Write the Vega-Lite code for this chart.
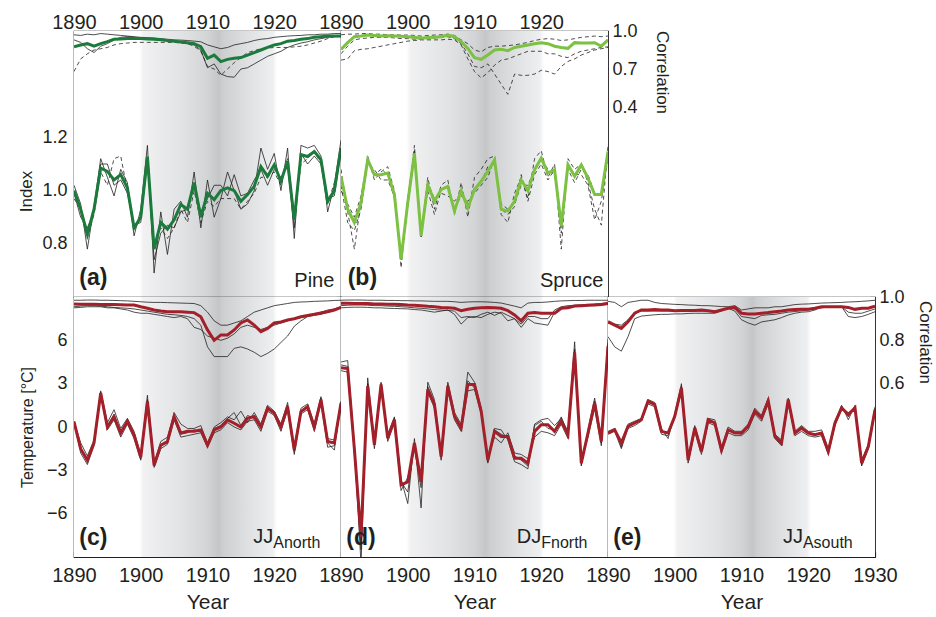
{
"$schema":"https://vega.github.io/schema/vega-lite/v6.json",
"background":"white",
"padding":{"left":16,"top":11,"right":0,"bottom":0},
"config":{
 "font":"Liberation Sans",
 "view":{"stroke":"#231f20","strokeWidth":1.2},
 "axis":{"domain":false,"grid":false,"tickColor":"#231f20","tickSize":-5,"tickWidth":1.2,"labelColor":"#231f20","titleColor":"#231f20","labelFont":"Liberation Sans","titleFont":"Liberation Sans","titleFontWeight":"normal","labelPadding":4,"labelFlush":false,"labelOverlap":false},
 "text":{"color":"#231f20","font":"Liberation Sans","baseline":"alphabetic"}
},
"datasets":{
"a_idx":[
{"yr":1890,"m":1.0,"k1":1.02,"k2":0.99,"k3":0.97},{"yr":1891,"m":0.93,"k1":0.95,"k2":0.90,"k3":0.93},{"yr":1892,"m":0.835,"k1":0.78,"k2":0.86,"k3":0.82},{"yr":1893,"m":0.93,"k1":0.94,"k2":0.92,"k3":0.91},{"yr":1894,"m":1.085,"k1":1.12,"k2":1.10,"k3":1.07},{"yr":1895,"m":1.072,"k1":1.05,"k2":1.10,"k3":1.02},{"yr":1896,"m":1.04,"k1":0.98,"k2":1.02,"k3":1.12},{"yr":1897,"m":1.06,"k1":1.08,"k2":1.04,"k3":1.13},{"yr":1898,"m":1.01,"k1":1.03,"k2":0.99,"k3":1.0},{"yr":1899,"m":0.86,"k1":0.83,"k2":0.87,"k3":0.85},{"yr":1900,"m":0.90,"k1":0.93,"k2":0.88,"k3":0.90},{"yr":1901,"m":1.128,"k1":1.17,"k2":1.12,"k3":1.10},{"yr":1902,"m":0.78,"k1":0.69,"k2":0.74,"k3":0.80},{"yr":1903,"m":0.88,"k1":0.92,"k2":0.84,"k3":0.86},{"yr":1904,"m":0.855,"k1":0.76,"k2":0.87,"k3":0.82},{"yr":1905,"m":0.89,"k1":0.93,"k2":0.86,"k3":0.86},{"yr":1906,"m":0.948,"k1":0.96,"k2":0.92,"k3":0.93},{"yr":1907,"m":0.93,"k1":0.90,"k2":0.93,"k3":0.88},{"yr":1908,"m":1.03,"k1":1.07,"k2":1.02,"k3":1.0},{"yr":1909,"m":0.90,"k1":0.86,"k2":0.92,"k3":0.88},{"yr":1910,"m":0.99,"k1":1.04,"k2":0.97,"k3":0.96},{"yr":1911,"m":0.966,"k1":0.90,"k2":1.02,"k3":0.94},{"yr":1912,"m":1.0,"k1":0.97,"k2":1.02,"k3":0.97},{"yr":1913,"m":1.01,"k1":1.07,"k2":0.98,"k3":0.97},{"yr":1914,"m":1.0,"k1":1.0,"k2":1.06,"k3":0.97},{"yr":1915,"m":0.96,"k1":0.93,"k2":0.98,"k3":0.93},{"yr":1916,"m":0.985,"k1":0.95,"k2":0.99,"k3":0.96},{"yr":1917,"m":1.016,"k1":1.0,"k2":1.04,"k3":0.99},{"yr":1918,"m":1.09,"k1":1.16,"k2":1.08,"k3":1.05},{"yr":1919,"m":1.054,"k1":1.08,"k2":1.02,"k3":1.05},{"yr":1920,"m":1.097,"k1":1.14,"k2":1.08,"k3":1.07},{"yr":1921,"m":1.035,"k1":1.0,"k2":1.05,"k3":1.02},{"yr":1922,"m":1.11,"k1":1.16,"k2":1.09,"k3":1.12},{"yr":1923,"m":0.89,"k1":0.82,"k2":0.86,"k3":0.90},{"yr":1924,"m":1.135,"k1":1.17,"k2":1.14,"k3":1.10},{"yr":1925,"m":1.128,"k1":1.16,"k2":1.10,"k3":1.12},{"yr":1926,"m":1.147,"k1":1.17,"k2":1.13,"k3":1.15},{"yr":1927,"m":1.116,"k1":1.13,"k2":1.10,"k3":1.10},{"yr":1928,"m":0.96,"k1":0.92,"k2":0.97,"k3":0.95},{"yr":1929,"m":1.0,"k1":1.02,"k2":0.98,"k3":1.03},{"yr":1930,"m":1.16,"k1":1.19,"k2":1.15,"k3":1.14}
],
"b_idx":[
{"yr":1890,"m":1.054,"k1":1.08,"k2":1.02,"k3":1.0},{"yr":1891,"m":0.93,"k1":0.92,"k2":0.88,"k3":0.95},{"yr":1892,"m":0.88,"k1":0.78,"k2":0.85,"k3":0.90},{"yr":1893,"m":0.954,"k1":0.96,"k2":0.93,"k3":0.98},{"yr":1894,"m":1.116,"k1":1.13,"k2":1.10,"k3":1.12},{"yr":1895,"m":1.06,"k1":1.04,"k2":1.08,"k3":1.06},{"yr":1896,"m":1.06,"k1":1.07,"k2":1.04,"k3":1.08},{"yr":1897,"m":1.066,"k1":1.09,"k2":1.04,"k3":1.06},{"yr":1898,"m":0.985,"k1":1.0,"k2":0.98,"k3":0.97},{"yr":1899,"m":0.742,"k1":0.71,"k2":0.75,"k3":0.74},{"yr":1900,"m":0.954,"k1":0.96,"k2":0.94,"k3":0.97},{"yr":1901,"m":1.14,"k1":1.17,"k2":1.15,"k3":1.13},{"yr":1902,"m":0.83,"k1":0.82,"k2":0.84,"k3":0.83},{"yr":1903,"m":1.022,"k1":1.05,"k2":1.03,"k3":1.0},{"yr":1904,"m":0.96,"k1":0.93,"k2":0.97,"k3":0.91},{"yr":1905,"m":1.004,"k1":1.02,"k2":0.99,"k3":1.0},{"yr":1906,"m":1.016,"k1":1.04,"k2":0.98,"k3":1.02},{"yr":1907,"m":0.923,"k1":0.91,"k2":0.96,"k3":0.93},{"yr":1908,"m":1.0,"k1":1.03,"k2":0.99,"k3":0.98},{"yr":1909,"m":0.935,"k1":0.90,"k2":0.95,"k3":0.96},{"yr":1910,"m":1.004,"k1":1.05,"k2":1.0,"k3":0.99},{"yr":1911,"m":1.035,"k1":1.08,"k2":1.03,"k3":1.02},{"yr":1912,"m":1.072,"k1":1.12,"k2":1.09,"k3":1.05},{"yr":1913,"m":1.116,"k1":1.13,"k2":1.10,"k3":1.12},{"yr":1914,"m":0.93,"k1":0.91,"k2":0.95,"k3":0.93},{"yr":1915,"m":0.923,"k1":0.88,"k2":0.93,"k3":0.91},{"yr":1916,"m":0.96,"k1":0.99,"k2":0.95,"k3":0.94},{"yr":1917,"m":1.04,"k1":1.05,"k2":1.02,"k3":1.06},{"yr":1918,"m":1.0,"k1":0.97,"k2":1.02,"k3":0.96},{"yr":1919,"m":1.078,"k1":1.12,"k2":1.08,"k3":1.06},{"yr":1920,"m":1.122,"k1":1.15,"k2":1.12,"k3":1.10},{"yr":1921,"m":1.066,"k1":1.05,"k2":1.08,"k3":1.04},{"yr":1922,"m":1.078,"k1":1.10,"k2":1.06,"k3":1.08},{"yr":1923,"m":0.867,"k1":0.78,"k2":0.88,"k3":0.84},{"yr":1924,"m":1.097,"k1":1.12,"k2":1.08,"k3":1.10},{"yr":1925,"m":1.054,"k1":1.08,"k2":1.03,"k3":1.06},{"yr":1926,"m":1.097,"k1":1.10,"k2":1.08,"k3":1.06},{"yr":1927,"m":1.047,"k1":1.03,"k2":1.06,"k3":1.02},{"yr":1928,"m":0.985,"k1":0.93,"k2":0.99,"k3":0.89},{"yr":1929,"m":0.985,"k1":0.87,"k2":0.98,"k3":0.96},{"yr":1930,"m":1.147,"k1":1.17,"k2":1.14,"k3":1.12}
],
"a_cor":[
{"yr":1890,"m":0.876,"k1":0.97,"k2":0.93,"k3":0.68},{"yr":1891,"m":0.89,"k1":0.965,"k2":0.91,"k3":0.78},{"yr":1892,"m":0.90,"k1":0.975,"k2":0.86,"k3":0.82},{"yr":1893,"m":0.88,"k1":0.97,"k2":0.83,"k3":0.85},{"yr":1894,"m":0.90,"k1":0.98,"k2":0.88,"k3":0.86},{"yr":1895,"m":0.916,"k1":0.975,"k2":0.90,"k3":0.87},{"yr":1896,"m":0.934,"k1":0.97,"k2":0.93,"k3":0.89},{"yr":1897,"m":0.937,"k1":0.965,"k2":0.95,"k3":0.90},{"yr":1898,"m":0.94,"k1":0.96,"k2":0.955,"k3":0.905},{"yr":1899,"m":0.94,"k1":0.955,"k2":0.95,"k3":0.91},{"yr":1900,"m":0.94,"k1":0.95,"k2":0.945,"k3":0.91},{"yr":1901,"m":0.937,"k1":0.948,"k2":0.94,"k3":0.91},{"yr":1902,"m":0.934,"k1":0.945,"k2":0.935,"k3":0.91},{"yr":1903,"m":0.93,"k1":0.94,"k2":0.93,"k3":0.91},{"yr":1904,"m":0.924,"k1":0.935,"k2":0.925,"k3":0.91},{"yr":1905,"m":0.92,"k1":0.93,"k2":0.92,"k3":0.91},{"yr":1906,"m":0.914,"k1":0.928,"k2":0.91,"k3":0.905},{"yr":1907,"m":0.907,"k1":0.925,"k2":0.90,"k3":0.90},{"yr":1908,"m":0.90,"k1":0.92,"k2":0.89,"k3":0.88},{"yr":1909,"m":0.876,"k1":0.915,"k2":0.85,"k3":0.84},{"yr":1910,"m":0.784,"k1":0.89,"k2":0.71,"k3":0.72},{"yr":1911,"m":0.81,"k1":0.875,"k2":0.74,"k3":0.70},{"yr":1912,"m":0.758,"k1":0.86,"k2":0.66,"k3":0.65},{"yr":1913,"m":0.776,"k1":0.87,"k2":0.64,"k3":0.70},{"yr":1914,"m":0.784,"k1":0.89,"k2":0.635,"k3":0.75},{"yr":1915,"m":0.79,"k1":0.90,"k2":0.70,"k3":0.79},{"yr":1916,"m":0.81,"k1":0.91,"k2":0.71,"k3":0.83},{"yr":1917,"m":0.83,"k1":0.925,"k2":0.74,"k3":0.845},{"yr":1918,"m":0.85,"k1":0.935,"k2":0.77,"k3":0.86},{"yr":1919,"m":0.87,"k1":0.94,"k2":0.80,"k3":0.865},{"yr":1920,"m":0.89,"k1":0.95,"k2":0.82,"k3":0.87},{"yr":1921,"m":0.90,"k1":0.955,"k2":0.84,"k3":0.87},{"yr":1922,"m":0.92,"k1":0.96,"k2":0.87,"k3":0.87},{"yr":1923,"m":0.925,"k1":0.963,"k2":0.89,"k3":0.875},{"yr":1924,"m":0.934,"k1":0.965,"k2":0.905,"k3":0.88},{"yr":1925,"m":0.94,"k1":0.97,"k2":0.915,"k3":0.89},{"yr":1926,"m":0.95,"k1":0.97,"k2":0.93,"k3":0.905},{"yr":1927,"m":0.955,"k1":0.975,"k2":0.94,"k3":0.92},{"yr":1928,"m":0.96,"k1":0.975,"k2":0.95,"k3":0.94},{"yr":1929,"m":0.96,"k1":0.98,"k2":0.955,"k3":0.955},{"yr":1930,"m":0.96,"k1":0.98,"k2":0.955,"k3":0.96}
],
"b_cor":[
{"yr":1890,"m":0.855,"k1":0.97,"k2":0.77,"k3":0.82},{"yr":1891,"m":0.908,"k1":0.975,"k2":0.78,"k3":0.88},{"yr":1892,"m":0.955,"k1":0.975,"k2":0.845,"k3":0.93},{"yr":1893,"m":0.96,"k1":0.98,"k2":0.855,"k3":0.94},{"yr":1894,"m":0.968,"k1":0.98,"k2":0.86,"k3":0.945},{"yr":1895,"m":0.965,"k1":0.975,"k2":0.87,"k3":0.95},{"yr":1896,"m":0.96,"k1":0.975,"k2":0.88,"k3":0.95},{"yr":1897,"m":0.962,"k1":0.97,"k2":0.89,"k3":0.95},{"yr":1898,"m":0.96,"k1":0.97,"k2":0.90,"k3":0.945},{"yr":1899,"m":0.958,"k1":0.968,"k2":0.91,"k3":0.94},{"yr":1900,"m":0.955,"k1":0.968,"k2":0.92,"k3":0.94},{"yr":1901,"m":0.95,"k1":0.965,"k2":0.925,"k3":0.935},{"yr":1902,"m":0.943,"k1":0.96,"k2":0.93,"k3":0.935},{"yr":1903,"m":0.948,"k1":0.965,"k2":0.93,"k3":0.94},{"yr":1904,"m":0.95,"k1":0.968,"k2":0.93,"k3":0.945},{"yr":1905,"m":0.955,"k1":0.97,"k2":0.93,"k3":0.95},{"yr":1906,"m":0.968,"k1":0.975,"k2":0.935,"k3":0.955},{"yr":1907,"m":0.955,"k1":0.965,"k2":0.93,"k3":0.94},{"yr":1908,"m":0.916,"k1":0.93,"k2":0.89,"k3":0.90},{"yr":1909,"m":0.863,"k1":0.90,"k2":0.78,"k3":0.82},{"yr":1910,"m":0.79,"k1":0.85,"k2":0.68,"k3":0.72},{"yr":1911,"m":0.776,"k1":0.835,"k2":0.63,"k3":0.71},{"yr":1912,"m":0.81,"k1":0.87,"k2":0.67,"k3":0.74},{"yr":1913,"m":0.85,"k1":0.88,"k2":0.73,"k3":0.66},{"yr":1914,"m":0.855,"k1":0.88,"k2":0.77,"k3":0.58},{"yr":1915,"m":0.845,"k1":0.885,"k2":0.78,"k3":0.50},{"yr":1916,"m":0.87,"k1":0.89,"k2":0.80,"k3":0.66},{"yr":1917,"m":0.88,"k1":0.90,"k2":0.82,"k3":0.65},{"yr":1918,"m":0.89,"k1":0.91,"k2":0.84,"k3":0.65},{"yr":1919,"m":0.90,"k1":0.925,"k2":0.84,"k3":0.66},{"yr":1920,"m":0.908,"k1":0.935,"k2":0.84,"k3":0.69},{"yr":1921,"m":0.90,"k1":0.94,"k2":0.82,"k3":0.68},{"yr":1922,"m":0.88,"k1":0.935,"k2":0.82,"k3":0.66},{"yr":1923,"m":0.87,"k1":0.925,"k2":0.80,"k3":0.72},{"yr":1924,"m":0.863,"k1":0.93,"k2":0.79,"k3":0.76},{"yr":1925,"m":0.908,"k1":0.94,"k2":0.82,"k3":0.78},{"yr":1926,"m":0.905,"k1":0.95,"k2":0.84,"k3":0.81},{"yr":1927,"m":0.905,"k1":0.955,"k2":0.85,"k3":0.83},{"yr":1928,"m":0.908,"k1":0.96,"k2":0.86,"k3":0.85},{"yr":1929,"m":0.88,"k1":0.955,"k2":0.87,"k3":0.86},{"yr":1930,"m":0.93,"k1":0.96,"k2":0.875,"k3":0.87}
],
"c_tmp":[
{"yr":1890,"m":0.37,"k1":0.4,"k2":0.3,"k3":0.4},{"yr":1891,"m":-1.5,"k1":-1.1,"k2":-1.8,"k3":-1.6},{"yr":1892,"m":-2.3,"k1":-2.0,"k2":-2.6,"k3":-2.4},{"yr":1893,"m":-1.1,"k1":-0.9,"k2":-1.3,"k3":-1.0},{"yr":1894,"m":2.35,"k1":2.5,"k2":2.2,"k3":2.4},{"yr":1895,"m":0.0,"k1":0.3,"k2":-0.2,"k3":0.1},{"yr":1896,"m":0.7,"k1":1.2,"k2":0.5,"k3":0.9},{"yr":1897,"m":-0.4,"k1":-0.1,"k2":-0.7,"k3":-0.5},{"yr":1898,"m":0.4,"k1":0.6,"k2":0.2,"k3":0.5},{"yr":1899,"m":-0.56,"k1":-0.3,"k2":-0.8,"k3":-0.6},{"yr":1900,"m":-2.1,"k1":-1.9,"k2":-2.3,"k3":-2.2},{"yr":1901,"m":1.77,"k1":2.2,"k2":1.6,"k3":1.9},{"yr":1902,"m":-2.65,"k1":-2.5,"k2":-2.8,"k3":-2.7},{"yr":1903,"m":-1.26,"k1":-1.0,"k2":-1.5,"k3":-1.3},{"yr":1904,"m":-1.0,"k1":-0.7,"k2":-1.2,"k3":-1.1},{"yr":1905,"m":0.72,"k1":1.0,"k2":0.5,"k3":0.8},{"yr":1906,"m":-0.42,"k1":0.2,"k2":-0.7,"k3":-0.5},{"yr":1907,"m":-0.3,"k1":-0.1,"k2":-0.6,"k3":-0.4},{"yr":1908,"m":-0.3,"k1":-0.1,"k2":-0.5,"k3":-0.2},{"yr":1909,"m":-0.2,"k1":0.1,"k2":-0.4,"k3":-0.3},{"yr":1910,"m":-1.26,"k1":-1.1,"k2":-1.4,"k3":-1.3},{"yr":1911,"m":-0.2,"k1":0.0,"k2":-0.4,"k3":-0.1},{"yr":1912,"m":0.0,"k1":0.3,"k2":-0.2,"k3":0.1},{"yr":1913,"m":0.49,"k1":0.7,"k2":0.3,"k3":0.6},{"yr":1914,"m":0.26,"k1":0.5,"k2":0.0,"k3":1.0},{"yr":1915,"m":0.0,"k1":1.1,"k2":-0.2,"k3":0.1},{"yr":1916,"m":0.6,"k1":0.3,"k2":0.4,"k3":0.8},{"yr":1917,"m":0.72,"k1":1.0,"k2":0.5,"k3":0.6},{"yr":1918,"m":0.0,"k1":0.2,"k2":-0.3,"k3":0.1},{"yr":1919,"m":1.3,"k1":1.5,"k2":1.1,"k3":1.4},{"yr":1920,"m":0.96,"k1":1.1,"k2":0.8,"k3":1.0},{"yr":1921,"m":0.0,"k1":0.2,"k2":-0.3,"k3":0.1},{"yr":1922,"m":1.4,"k1":1.7,"k2":1.2,"k3":1.5},{"yr":1923,"m":-1.6,"k1":-1.4,"k2":-1.9,"k3":-1.7},{"yr":1924,"m":1.07,"k1":1.3,"k2":0.9,"k3":1.1},{"yr":1925,"m":1.4,"k1":1.6,"k2":1.2,"k3":1.5},{"yr":1926,"m":0.0,"k1":0.2,"k2":-0.3,"k3":0.1},{"yr":1927,"m":1.9,"k1":2.1,"k2":1.7,"k3":2.0},{"yr":1928,"m":-1.0,"k1":-0.8,"k2":-1.4,"k3":-1.1},{"yr":1929,"m":-1.1,"k1":-0.9,"k2":-1.3,"k3":-1.6},{"yr":1930,"m":1.67,"k1":1.8,"k2":1.5,"k3":1.7}
],
"c_cor":[
{"yr":1890,"m":0.968,"k1":0.985,"k2":0.95,"k3":0.955},{"yr":1891,"m":0.966,"k1":0.985,"k2":0.952,"k3":0.958},{"yr":1892,"m":0.967,"k1":0.986,"k2":0.955,"k3":0.96},{"yr":1893,"m":0.966,"k1":0.986,"k2":0.955,"k3":0.96},{"yr":1894,"m":0.965,"k1":0.985,"k2":0.955,"k3":0.958},{"yr":1895,"m":0.965,"k1":0.985,"k2":0.95,"k3":0.955},{"yr":1896,"m":0.965,"k1":0.984,"k2":0.95,"k3":0.952},{"yr":1897,"m":0.964,"k1":0.983,"k2":0.945,"k3":0.95},{"yr":1898,"m":0.963,"k1":0.982,"k2":0.94,"k3":0.948},{"yr":1899,"m":0.963,"k1":0.98,"k2":0.93,"k3":0.945},{"yr":1900,"m":0.955,"k1":0.978,"k2":0.925,"k3":0.94},{"yr":1901,"m":0.948,"k1":0.976,"k2":0.925,"k3":0.935},{"yr":1902,"m":0.94,"k1":0.975,"k2":0.92,"k3":0.93},{"yr":1903,"m":0.935,"k1":0.975,"k2":0.915,"k3":0.925},{"yr":1904,"m":0.932,"k1":0.974,"k2":0.91,"k3":0.92},{"yr":1905,"m":0.932,"k1":0.973,"k2":0.905,"k3":0.918},{"yr":1906,"m":0.932,"k1":0.972,"k2":0.91,"k3":0.915},{"yr":1907,"m":0.93,"k1":0.971,"k2":0.90,"k3":0.91},{"yr":1908,"m":0.928,"k1":0.97,"k2":0.86,"k3":0.90},{"yr":1909,"m":0.909,"k1":0.96,"k2":0.85,"k3":0.87},{"yr":1910,"m":0.848,"k1":0.93,"k2":0.82,"k3":0.77},{"yr":1911,"m":0.80,"k1":0.89,"k2":0.81,"k3":0.725},{"yr":1912,"m":0.825,"k1":0.87,"k2":0.80,"k3":0.725},{"yr":1913,"m":0.825,"k1":0.87,"k2":0.81,"k3":0.725},{"yr":1914,"m":0.848,"k1":0.88,"k2":0.83,"k3":0.763},{"yr":1915,"m":0.88,"k1":0.89,"k2":0.86,"k3":0.77},{"yr":1916,"m":0.894,"k1":0.91,"k2":0.87,"k3":0.76},{"yr":1917,"m":0.87,"k1":0.93,"k2":0.86,"k3":0.745},{"yr":1918,"m":0.84,"k1":0.94,"k2":0.85,"k3":0.725},{"yr":1919,"m":0.855,"k1":0.95,"k2":0.86,"k3":0.74},{"yr":1920,"m":0.88,"k1":0.96,"k2":0.87,"k3":0.76},{"yr":1921,"m":0.885,"k1":0.965,"k2":0.88,"k3":0.79},{"yr":1922,"m":0.894,"k1":0.97,"k2":0.89,"k3":0.82},{"yr":1923,"m":0.90,"k1":0.975,"k2":0.90,"k3":0.865},{"yr":1924,"m":0.909,"k1":0.977,"k2":0.905,"k3":0.89},{"yr":1925,"m":0.915,"k1":0.978,"k2":0.91,"k3":0.91},{"yr":1926,"m":0.92,"k1":0.98,"k2":0.915,"k3":0.92},{"yr":1927,"m":0.926,"k1":0.981,"k2":0.92,"k3":0.93},{"yr":1928,"m":0.932,"k1":0.982,"k2":0.93,"k3":0.94},{"yr":1929,"m":0.94,"k1":0.984,"k2":0.94,"k3":0.945},{"yr":1930,"m":0.952,"k1":0.985,"k2":0.95,"k3":0.955}
],
"d_tmp":[
{"yr":1890,"m":4.1,"k1":4.5,"k2":3.9,"k3":4.3},{"yr":1891,"m":4.05,"k1":4.6,"k2":3.8,"k3":4.2},{"yr":1892,"m":-1.5,"k1":-1.2,"k2":-1.8,"k3":-1.4},{"yr":1893,"m":-7.6,"k1":-9.5,"k2":-8.5,"k3":-8.0},{"yr":1894,"m":2.84,"k1":3.4,"k2":2.6,"k3":3.0},{"yr":1895,"m":-1.23,"k1":-1.0,"k2":-1.5,"k3":-1.1},{"yr":1896,"m":2.95,"k1":3.1,"k2":2.7,"k3":3.0},{"yr":1897,"m":-0.77,"k1":-0.5,"k2":-1.0,"k3":-0.8},{"yr":1898,"m":0.5,"k1":0.7,"k2":0.3,"k3":0.6},{"yr":1899,"m":-4.0,"k1":-3.6,"k2":-4.4,"k3":-3.8},{"yr":1900,"m":-3.8,"k1":-5.3,"k2":-3.5,"k3":-4.5},{"yr":1901,"m":-1.1,"k1":-0.8,"k2":-1.5,"k3":-1.2},{"yr":1902,"m":-3.8,"k1":-5.6,"k2":-4.2,"k3":-3.6},{"yr":1903,"m":2.6,"k1":3.1,"k2":2.4,"k3":2.8},{"yr":1904,"m":1.56,"k1":1.9,"k2":1.3,"k3":1.7},{"yr":1905,"m":-2.05,"k1":-1.8,"k2":-2.3,"k3":-2.1},{"yr":1906,"m":2.84,"k1":3.1,"k2":2.6,"k3":2.9},{"yr":1907,"m":0.74,"k1":1.0,"k2":0.5,"k3":0.8},{"yr":1908,"m":-0.07,"k1":0.2,"k2":-0.3,"k3":0.0},{"yr":1909,"m":2.95,"k1":3.8,"k2":2.5,"k3":3.2},{"yr":1910,"m":2.95,"k1":3.1,"k2":2.6,"k3":2.7},{"yr":1911,"m":1.1,"k1":1.3,"k2":0.9,"k3":1.2},{"yr":1912,"m":-2.3,"k1":-2.5,"k2":-2.1,"k3":-2.4},{"yr":1913,"m":-0.3,"k1":-0.1,"k2":-0.7,"k3":-0.2},{"yr":1914,"m":-0.65,"k1":-0.2,"k2":-1.1,"k3":-0.5},{"yr":1915,"m":-0.65,"k1":-0.9,"k2":-0.4,"k3":-0.7},{"yr":1916,"m":-2.16,"k1":-2.4,"k2":-1.8,"k3":-2.0},{"yr":1917,"m":-2.16,"k1":-2.6,"k2":-1.9,"k3":-2.3},{"yr":1918,"m":-2.5,"k1":-2.9,"k2":-2.2,"k3":-2.7},{"yr":1919,"m":-0.3,"k1":0.2,"k2":-0.7,"k3":0.1},{"yr":1920,"m":0.16,"k1":0.5,"k2":-0.3,"k3":0.4},{"yr":1921,"m":0.16,"k1":0.6,"k2":-0.4,"k3":-0.1},{"yr":1922,"m":-0.3,"k1":0.1,"k2":-0.6,"k3":-0.2},{"yr":1923,"m":0.4,"k1":0.6,"k2":0.2,"k3":0.7},{"yr":1924,"m":-0.53,"k1":-0.3,"k2":-0.8,"k3":-0.5},{"yr":1925,"m":5.16,"k1":5.9,"k2":4.9,"k3":5.4},{"yr":1926,"m":-2.5,"k1":-2.7,"k2":-2.3,"k3":-2.6},{"yr":1927,"m":-0.42,"k1":-0.2,"k2":-0.7,"k3":-0.5},{"yr":1928,"m":1.67,"k1":2.0,"k2":1.3,"k3":1.8},{"yr":1929,"m":-1.0,"k1":-0.8,"k2":-1.3,"k3":-1.1},{"yr":1930,"m":5.6,"k1":6.1,"k2":5.3,"k3":5.8}
],
"d_cor":[
{"yr":1890,"m":0.971,"k1":0.985,"k2":0.95,"k3":0.96},{"yr":1891,"m":0.971,"k1":0.986,"k2":0.952,"k3":0.962},{"yr":1892,"m":0.97,"k1":0.986,"k2":0.953,"k3":0.963},{"yr":1893,"m":0.97,"k1":0.986,"k2":0.953,"k3":0.963},{"yr":1894,"m":0.97,"k1":0.985,"k2":0.952,"k3":0.962},{"yr":1895,"m":0.968,"k1":0.985,"k2":0.95,"k3":0.96},{"yr":1896,"m":0.968,"k1":0.985,"k2":0.95,"k3":0.96},{"yr":1897,"m":0.967,"k1":0.984,"k2":0.948,"k3":0.958},{"yr":1898,"m":0.966,"k1":0.984,"k2":0.947,"k3":0.957},{"yr":1899,"m":0.965,"k1":0.983,"k2":0.946,"k3":0.955},{"yr":1900,"m":0.963,"k1":0.983,"k2":0.945,"k3":0.953},{"yr":1901,"m":0.962,"k1":0.982,"k2":0.942,"k3":0.95},{"yr":1902,"m":0.96,"k1":0.982,"k2":0.94,"k3":0.948},{"yr":1903,"m":0.957,"k1":0.981,"k2":0.935,"k3":0.945},{"yr":1904,"m":0.955,"k1":0.98,"k2":0.93,"k3":0.942},{"yr":1905,"m":0.952,"k1":0.98,"k2":0.935,"k3":0.94},{"yr":1906,"m":0.95,"k1":0.98,"k2":0.94,"k3":0.938},{"yr":1907,"m":0.948,"k1":0.978,"k2":0.92,"k3":0.935},{"yr":1908,"m":0.937,"k1":0.975,"k2":0.875,"k3":0.905},{"yr":1909,"m":0.943,"k1":0.977,"k2":0.905,"k3":0.91},{"yr":1910,"m":0.948,"k1":0.978,"k2":0.91,"k3":0.905},{"yr":1911,"m":0.95,"k1":0.978,"k2":0.905,"k3":0.92},{"yr":1912,"m":0.952,"k1":0.977,"k2":0.92,"k3":0.93},{"yr":1913,"m":0.95,"k1":0.975,"k2":0.93,"k3":0.915},{"yr":1914,"m":0.948,"k1":0.972,"k2":0.925,"k3":0.93},{"yr":1915,"m":0.937,"k1":0.965,"k2":0.89,"k3":0.915},{"yr":1916,"m":0.917,"k1":0.958,"k2":0.90,"k3":0.90},{"yr":1917,"m":0.89,"k1":0.95,"k2":0.86,"k3":0.875},{"yr":1918,"m":0.925,"k1":0.972,"k2":0.90,"k3":0.91},{"yr":1919,"m":0.928,"k1":0.975,"k2":0.88,"k3":0.91},{"yr":1920,"m":0.925,"k1":0.975,"k2":0.875,"k3":0.90},{"yr":1921,"m":0.925,"k1":0.977,"k2":0.87,"k3":0.90},{"yr":1922,"m":0.925,"k1":0.98,"k2":0.93,"k3":0.94},{"yr":1923,"m":0.948,"k1":0.982,"k2":0.95,"k3":0.955},{"yr":1924,"m":0.95,"k1":0.983,"k2":0.955,"k3":0.96},{"yr":1925,"m":0.958,"k1":0.984,"k2":0.957,"k3":0.962},{"yr":1926,"m":0.96,"k1":0.984,"k2":0.958,"k3":0.964},{"yr":1927,"m":0.962,"k1":0.985,"k2":0.96,"k3":0.966},{"yr":1928,"m":0.963,"k1":0.985,"k2":0.962,"k3":0.968},{"yr":1929,"m":0.965,"k1":0.985,"k2":0.963,"k3":0.97},{"yr":1930,"m":0.971,"k1":0.985,"k2":0.965,"k3":0.97}
],
"e_tmp":[
{"yr":1890,"m":-0.42,"k1":-0.3,"k2":-0.5,"k3":-0.4},{"yr":1891,"m":-0.19,"k1":-0.1,"k2":-0.3,"k3":-0.2},{"yr":1892,"m":-1.1,"k1":-1.4,"k2":-1.5,"k3":-1.0},{"yr":1893,"m":0.05,"k1":0.2,"k2":-0.1,"k3":0.0},{"yr":1894,"m":0.28,"k1":0.4,"k2":0.1,"k3":0.3},{"yr":1895,"m":0.5,"k1":0.6,"k2":0.4,"k3":0.5},{"yr":1896,"m":1.8,"k1":1.9,"k2":1.6,"k3":1.7},{"yr":1897,"m":1.56,"k1":1.7,"k2":1.4,"k3":1.5},{"yr":1898,"m":-0.3,"k1":-0.1,"k2":-0.5,"k3":-0.3},{"yr":1899,"m":-0.42,"k1":-0.8,"k2":-0.6,"k3":-0.4},{"yr":1900,"m":0.74,"k1":0.9,"k2":0.6,"k3":0.8},{"yr":1901,"m":2.7,"k1":3.0,"k2":2.5,"k3":2.8},{"yr":1902,"m":-2.3,"k1":-2.1,"k2":-2.5,"k3":-2.2},{"yr":1903,"m":-0.07,"k1":0.1,"k2":-0.3,"k3":0.0},{"yr":1904,"m":-1.7,"k1":-1.5,"k2":-1.9,"k3":-1.6},{"yr":1905,"m":0.5,"k1":0.6,"k2":0.3,"k3":0.4},{"yr":1906,"m":0.28,"k1":0.5,"k2":0.1,"k3":0.3},{"yr":1907,"m":-1.6,"k1":-1.4,"k2":-1.8,"k3":-1.5},{"yr":1908,"m":-0.19,"k1":0.0,"k2":-0.4,"k3":-0.2},{"yr":1909,"m":-0.42,"k1":-0.3,"k2":-0.6,"k3":-0.4},{"yr":1910,"m":-0.42,"k1":-0.3,"k2":-0.6,"k3":-0.5},{"yr":1911,"m":0.05,"k1":0.2,"k2":-0.2,"k3":0.0},{"yr":1912,"m":1.1,"k1":1.3,"k2":0.9,"k3":1.2},{"yr":1913,"m":0.63,"k1":0.8,"k2":0.4,"k3":0.6},{"yr":1914,"m":1.8,"k1":2.0,"k2":1.6,"k3":1.7},{"yr":1915,"m":-0.65,"k1":-0.5,"k2":-0.8,"k3":-0.7},{"yr":1916,"m":-1.1,"k1":-0.9,"k2":-1.3,"k3":-1.2},{"yr":1917,"m":1.9,"k1":2.0,"k2":1.7,"k3":1.8},{"yr":1918,"m":-0.42,"k1":-0.3,"k2":-0.6,"k3":-0.4},{"yr":1919,"m":-0.07,"k1":0.1,"k2":-0.3,"k3":0.0},{"yr":1920,"m":-0.42,"k1":-0.3,"k2":-0.6,"k3":-0.4},{"yr":1921,"m":-0.53,"k1":-0.3,"k2":-0.7,"k3":-0.5},{"yr":1922,"m":-0.42,"k1":-0.2,"k2":-0.6,"k3":-0.4},{"yr":1923,"m":-1.7,"k1":-1.5,"k2":-1.9,"k3":-1.6},{"yr":1924,"m":0.28,"k1":0.4,"k2":0.1,"k3":0.3},{"yr":1925,"m":1.33,"k1":1.5,"k2":1.2,"k3":1.4},{"yr":1926,"m":0.86,"k1":0.5,"k2":1.0,"k3":0.7},{"yr":1927,"m":1.33,"k1":1.5,"k2":1.2,"k3":1.4},{"yr":1928,"m":-2.5,"k1":-2.3,"k2":-2.7,"k3":-2.6},{"yr":1929,"m":-1.35,"k1":-1.2,"k2":-1.5,"k3":-1.4},{"yr":1930,"m":1.2,"k1":1.4,"k2":1.0,"k3":1.3}
],
"e_cor":[
{"yr":1890,"m":0.886,"k1":0.817,"k2":0.98,"k3":0.88},{"yr":1891,"m":0.87,"k1":0.77,"k2":0.975,"k3":0.875},{"yr":1892,"m":0.855,"k1":0.75,"k2":0.955,"k3":0.87},{"yr":1893,"m":0.886,"k1":0.817,"k2":0.975,"k3":0.895},{"yr":1894,"m":0.925,"k1":0.90,"k2":0.98,"k3":0.93},{"yr":1895,"m":0.94,"k1":0.912,"k2":0.985,"k3":0.935},{"yr":1896,"m":0.94,"k1":0.915,"k2":0.985,"k3":0.935},{"yr":1897,"m":0.942,"k1":0.918,"k2":0.975,"k3":0.935},{"yr":1898,"m":0.94,"k1":0.92,"k2":0.97,"k3":0.935},{"yr":1899,"m":0.94,"k1":0.92,"k2":0.968,"k3":0.935},{"yr":1900,"m":0.937,"k1":0.922,"k2":0.966,"k3":0.935},{"yr":1901,"m":0.938,"k1":0.922,"k2":0.965,"k3":0.935},{"yr":1902,"m":0.938,"k1":0.924,"k2":0.963,"k3":0.935},{"yr":1903,"m":0.938,"k1":0.925,"k2":0.962,"k3":0.935},{"yr":1904,"m":0.94,"k1":0.925,"k2":0.96,"k3":0.935},{"yr":1905,"m":0.937,"k1":0.925,"k2":0.96,"k3":0.935},{"yr":1906,"m":0.932,"k1":0.925,"k2":0.958,"k3":0.935},{"yr":1907,"m":0.94,"k1":0.935,"k2":0.956,"k3":0.94},{"yr":1908,"m":0.948,"k1":0.948,"k2":0.955,"k3":0.95},{"yr":1909,"m":0.952,"k1":0.935,"k2":0.96,"k3":0.945},{"yr":1910,"m":0.925,"k1":0.895,"k2":0.94,"k3":0.91},{"yr":1911,"m":0.922,"k1":0.88,"k2":0.945,"k3":0.905},{"yr":1912,"m":0.922,"k1":0.87,"k2":0.95,"k3":0.90},{"yr":1913,"m":0.925,"k1":0.885,"k2":0.95,"k3":0.915},{"yr":1914,"m":0.928,"k1":0.89,"k2":0.95,"k3":0.918},{"yr":1915,"m":0.932,"k1":0.895,"k2":0.955,"k3":0.92},{"yr":1916,"m":0.935,"k1":0.905,"k2":0.955,"k3":0.925},{"yr":1917,"m":0.94,"k1":0.917,"k2":0.96,"k3":0.93},{"yr":1918,"m":0.942,"k1":0.925,"k2":0.965,"k3":0.933},{"yr":1919,"m":0.943,"k1":0.93,"k2":0.967,"k3":0.936},{"yr":1920,"m":0.944,"k1":0.932,"k2":0.968,"k3":0.94},{"yr":1921,"m":0.948,"k1":0.94,"k2":0.97,"k3":0.945},{"yr":1922,"m":0.955,"k1":0.955,"k2":0.972,"k3":0.95},{"yr":1923,"m":0.955,"k1":0.955,"k2":0.973,"k3":0.953},{"yr":1924,"m":0.955,"k1":0.955,"k2":0.974,"k3":0.955},{"yr":1925,"m":0.955,"k1":0.955,"k2":0.975,"k3":0.955},{"yr":1926,"m":0.952,"k1":0.91,"k2":0.977,"k3":0.93},{"yr":1927,"m":0.943,"k1":0.905,"k2":0.978,"k3":0.925},{"yr":1928,"m":0.948,"k1":0.91,"k2":0.98,"k3":0.925},{"yr":1929,"m":0.948,"k1":0.92,"k2":0.982,"k3":0.935},{"yr":1930,"m":0.958,"k1":0.932,"k2":0.985,"k3":0.945}
]
},
"columns":3,
"spacing":0,
"bounds":"flush",
"concat":[
 {"width":267,"height":266,
  "resolve":{"scale":{"y":"independent"},"axis":{"x":"independent","y":"independent"}},
  "layer":[
   {"data":{"values":[{}]},"mark":{"type":"rect","fill":{"gradient":"linear","x1":0,"y1":0,"x2":1,"y2":0,"stops":[{"offset":0,"color":"#ffffff"},{"offset":0.245,"color":"#ffffff"},{"offset":0.26,"color":"#f1f1f2"},{"offset":0.40,"color":"#e2e3e5"},{"offset":0.50,"color":"#d3d4d6"},{"offset":0.542,"color":"#c5c6c8"},{"offset":0.56,"color":"#cecfd1"},{"offset":0.65,"color":"#dfe0e2"},{"offset":0.745,"color":"#eeeff0"},{"offset":0.76,"color":"#ffffff"},{"offset":1,"color":"#ffffff"}]}},
    "encoding":{"x":{"datum":1890,"type":"quantitative","scale":{"domain":[1890,1930],"nice":false,"zero":false},"axis":{"orient":"top","values":[1890,1900,1910,1920],"format":"d","title":null,"labelFontSize":20,"labelPadding":4}},"x2":{"datum":1930}}},
   {"data":{"name":"a_idx"},
    "encoding":{"x":{"field":"yr","type":"quantitative","scale":{"domain":[1890,1930],"nice":false,"zero":false},"axis":{"orient":"bottom","values":[1900,1910,1920],"labels":false,"title":null}},
      "y":{"field":"v","type":"quantitative","scale":{"domain":[0.6,1.6],"nice":false,"zero":false},"axis":{"orient":"left","values":[0.8,1.0,1.2],"format":".1f","title":"Index","labelFontSize":18,"titleFontSize":17,"labelPadding":12,"minExtent":31,"maxExtent":31,"titlePadding":8,"titleY":160}}},
    "layer":[
     {"transform":[{"fold":["k1","k2"],"as":["s","v"]}],"mark":{"type":"line","stroke":"#231f20","strokeWidth":0.8,"clip":true},"encoding":{"detail":{"field":"s"}}},
     {"transform":[{"fold":["k3"],"as":["s","v"]}],"mark":{"type":"line","stroke":"#231f20","strokeWidth":0.8,"strokeDash":[4,3],"clip":true}},
     {"transform":[{"fold":["m"],"as":["s","v"]}],"mark":{"type":"line","stroke":"#1b7a3c","strokeWidth":3,"clip":true}}
    ]},
   {"data":{"name":"a_cor"},
    "encoding":{"x":{"field":"yr","type":"quantitative","scale":{"domain":[1890,1930],"nice":false,"zero":false},"axis":null},
      "y":{"field":"v","type":"quantitative","scale":{"domain":[-1.1,1.0],"nice":false,"zero":false},"axis":{"orient":"right","values":[0.4,0.7,1.0],"labels":false,"title":null,"minExtent":0,"maxExtent":0}}},
    "layer":[
     {"transform":[{"fold":["k1","k2"],"as":["s","v"]}],"mark":{"type":"line","stroke":"#231f20","strokeWidth":0.8,"clip":true},"encoding":{"detail":{"field":"s"}}},
     {"transform":[{"fold":["k3"],"as":["s","v"]}],"mark":{"type":"line","stroke":"#231f20","strokeWidth":0.8,"strokeDash":[4,3],"clip":true}},
     {"transform":[{"fold":["m"],"as":["s","v"]}],"mark":{"type":"line","stroke":"#1b7a3c","strokeWidth":3,"clip":true}}
    ]},
   {"data":{"values":[{"t":"(a)"}]},"mark":{"type":"text","align":"left","fontSize":23,"fontWeight":"bold"},"encoding":{"x":{"datum":1890.8,"type":"quantitative","axis":null},"y":{"datum":0.645,"type":"quantitative","scale":{"domain":[0.6,1.6],"nice":false,"zero":false},"axis":null},"text":{"field":"t"}}},
   {"data":{"values":[{"t":"Pine"}]},"mark":{"type":"text","align":"right","fontSize":20},"encoding":{"x":{"datum":1929,"type":"quantitative","axis":null},"y":{"datum":0.637,"type":"quantitative","scale":{"domain":[0.6,1.6],"nice":false,"zero":false},"axis":null},"text":{"field":"t"}}}
  ]},
 {"width":267,"height":266,
  "resolve":{"scale":{"y":"independent"},"axis":{"x":"independent","y":"independent"}},
  "layer":[
   {"data":{"values":[{}]},"mark":{"type":"rect","fill":{"gradient":"linear","x1":0,"y1":0,"x2":1,"y2":0,"stops":[{"offset":0,"color":"#ffffff"},{"offset":0.245,"color":"#ffffff"},{"offset":0.26,"color":"#f1f1f2"},{"offset":0.40,"color":"#e2e3e5"},{"offset":0.50,"color":"#d3d4d6"},{"offset":0.542,"color":"#c5c6c8"},{"offset":0.56,"color":"#cecfd1"},{"offset":0.65,"color":"#dfe0e2"},{"offset":0.745,"color":"#eeeff0"},{"offset":0.76,"color":"#ffffff"},{"offset":1,"color":"#ffffff"}]}},
    "encoding":{"x":{"datum":1890,"type":"quantitative","scale":{"domain":[1890,1930],"nice":false,"zero":false},"axis":{"orient":"top","values":[1890,1900,1910,1920],"format":"d","title":null,"labelFontSize":20,"labelPadding":4}},"x2":{"datum":1930}}},
   {"data":{"name":"b_idx"},
    "encoding":{"x":{"field":"yr","type":"quantitative","scale":{"domain":[1890,1930],"nice":false,"zero":false},"axis":{"orient":"bottom","values":[1900,1910,1920],"labels":false,"title":null}},
      "y":{"field":"v","type":"quantitative","scale":{"domain":[0.6,1.6],"nice":false,"zero":false},"axis":{"orient":"left","values":[0.8,1.0,1.2],"labels":false,"title":null,"minExtent":0,"maxExtent":0}}},
    "layer":[
     {"transform":[{"fold":["k1","k2","k3"],"as":["s","v"]}],"mark":{"type":"line","stroke":"#231f20","strokeWidth":0.8,"strokeDash":[4,3],"clip":true},"encoding":{"detail":{"field":"s"}}},
     {"transform":[{"fold":["m"],"as":["s","v"]}],"mark":{"type":"line","stroke":"#7cc142","strokeWidth":3,"clip":true}}
    ]},
   {"data":{"name":"b_cor"},
    "encoding":{"x":{"field":"yr","type":"quantitative","scale":{"domain":[1890,1930],"nice":false,"zero":false},"axis":null},
      "y":{"field":"v","type":"quantitative","scale":{"domain":[-1.1,1.0],"nice":false,"zero":false},"axis":{"orient":"right","values":[0.4,0.7,1.0],"format":".1f","title":"Correlation","labelFontSize":18,"titleFontSize":17,"labelPadding":9,"titlePadding":15,"titleY":41}}},
    "layer":[
     {"transform":[{"fold":["k1","k2","k3"],"as":["s","v"]}],"mark":{"type":"line","stroke":"#231f20","strokeWidth":0.8,"strokeDash":[4,3],"clip":true},"encoding":{"detail":{"field":"s"}}},
     {"transform":[{"fold":["m"],"as":["s","v"]}],"mark":{"type":"line","stroke":"#7cc142","strokeWidth":3,"clip":true}}
    ]},
   {"data":{"values":[{"t":"(b)"}]},"mark":{"type":"text","align":"left","fontSize":23,"fontWeight":"bold"},"encoding":{"x":{"datum":1891.0,"type":"quantitative","axis":null},"y":{"datum":0.645,"type":"quantitative","scale":{"domain":[0.6,1.6],"nice":false,"zero":false},"axis":null},"text":{"field":"t"}}},
   {"data":{"values":[{"t":"Spruce"}]},"mark":{"type":"text","align":"right","fontSize":20},"encoding":{"x":{"datum":1929.3,"type":"quantitative","axis":null},"y":{"datum":0.637,"type":"quantitative","scale":{"domain":[0.6,1.6],"nice":false,"zero":false},"axis":null},"text":{"field":"t"}}}
  ]},
 {"width":267,"height":266,"view":{"stroke":null},"data":{"values":[{}]},"mark":{"type":"text","text":""}},
 {"width":267,"height":260,
  "resolve":{"scale":{"y":"independent"},"axis":{"x":"independent","y":"independent"}},
  "layer":[
   {"data":{"values":[{}]},"mark":{"type":"rect","fill":{"gradient":"linear","x1":0,"y1":0,"x2":1,"y2":0,"stops":[{"offset":0,"color":"#ffffff"},{"offset":0.245,"color":"#ffffff"},{"offset":0.26,"color":"#f1f1f2"},{"offset":0.40,"color":"#e2e3e5"},{"offset":0.50,"color":"#d3d4d6"},{"offset":0.542,"color":"#c5c6c8"},{"offset":0.56,"color":"#cecfd1"},{"offset":0.65,"color":"#dfe0e2"},{"offset":0.745,"color":"#eeeff0"},{"offset":0.76,"color":"#ffffff"},{"offset":1,"color":"#ffffff"}]}},
    "encoding":{"x":{"datum":1890,"type":"quantitative","scale":{"domain":[1890,1930],"nice":false,"zero":false},"axis":{"orient":"top","values":[1900,1910,1920],"labels":false,"title":null}},"x2":{"datum":1930}}},
   {"data":{"name":"c_tmp"},
    "encoding":{"x":{"field":"yr","type":"quantitative","scale":{"domain":[1890,1930],"nice":false,"zero":false},"axis":{"orient":"bottom","values":[1890,1900,1910,1920],"format":"d","title":"Year","labelFontSize":20,"titleFontSize":21,"labelPadding":13,"titlePadding":6}},
      "y":{"field":"v","type":"quantitative","scale":{"domain":[-9,9],"nice":false,"zero":false},"axis":{"orient":"left","values":[-6,-3,0,3,6],"format":"d","title":"Temperature [°C]","labelFontSize":18,"titleFontSize":16,"labelPadding":12,"minExtent":31,"maxExtent":31,"titlePadding":8}}},
    "layer":[
     {"transform":[{"fold":["k1","k2","k3"],"as":["s","v"]}],"mark":{"type":"line","stroke":"#231f20","strokeWidth":0.8,"clip":true},"encoding":{"detail":{"field":"s"}}},
     {"transform":[{"fold":["m"],"as":["s","v"]}],"mark":{"type":"line","stroke":"#a3202a","strokeWidth":3,"clip":true}}
    ]},
   {"data":{"name":"c_cor"},
    "encoding":{"x":{"field":"yr","type":"quantitative","scale":{"domain":[1890,1930],"nice":false,"zero":false},"axis":null},
      "y":{"field":"v","type":"quantitative","scale":{"domain":[-0.2,1.0],"nice":false,"zero":false},"axis":{"orient":"right","values":[0.6,0.8,1.0],"labels":false,"title":null,"minExtent":0,"maxExtent":0}}},
    "layer":[
     {"transform":[{"fold":["k1","k2","k3"],"as":["s","v"]}],"mark":{"type":"line","stroke":"#231f20","strokeWidth":0.8,"clip":true},"encoding":{"detail":{"field":"s"}}},
     {"transform":[{"fold":["m"],"as":["s","v"]}],"mark":{"type":"line","stroke":"#a3202a","strokeWidth":3,"clip":true}}
    ]},
   {"data":{"values":[{"t":"(c)"}]},"mark":{"type":"text","align":"left","fontSize":23,"fontWeight":"bold"},"encoding":{"x":{"datum":1890.8,"type":"quantitative","axis":null},"y":{"datum":-8.2,"type":"quantitative","scale":{"domain":[-9,9],"nice":false,"zero":false},"axis":null},"text":{"field":"t"}}},
   {"data":{"values":[{"t":"JJ"}]},"mark":{"type":"text","align":"right","fontSize":20},"encoding":{"x":{"datum":1919.85,"type":"quantitative","axis":null},"y":{"datum":-8.02,"type":"quantitative","scale":{"domain":[-9,9],"nice":false,"zero":false},"axis":null},"text":{"field":"t"}}},
   {"data":{"values":[{"t":"Anorth"}]},"mark":{"type":"text","align":"left","fontSize":16},"encoding":{"x":{"datum":1919.85,"type":"quantitative","axis":null},"y":{"datum":-8.37,"type":"quantitative","scale":{"domain":[-9,9],"nice":false,"zero":false},"axis":null},"text":{"field":"t"}}}
  ]},
 {"width":267,"height":260,
  "resolve":{"scale":{"y":"independent"},"axis":{"x":"independent","y":"independent"}},
  "layer":[
   {"data":{"values":[{}]},"mark":{"type":"rect","fill":{"gradient":"linear","x1":0,"y1":0,"x2":1,"y2":0,"stops":[{"offset":0,"color":"#ffffff"},{"offset":0.245,"color":"#ffffff"},{"offset":0.26,"color":"#f1f1f2"},{"offset":0.40,"color":"#e2e3e5"},{"offset":0.50,"color":"#d3d4d6"},{"offset":0.542,"color":"#c5c6c8"},{"offset":0.56,"color":"#cecfd1"},{"offset":0.65,"color":"#dfe0e2"},{"offset":0.745,"color":"#eeeff0"},{"offset":0.76,"color":"#ffffff"},{"offset":1,"color":"#ffffff"}]}},
    "encoding":{"x":{"datum":1890,"type":"quantitative","scale":{"domain":[1890,1930],"nice":false,"zero":false},"axis":{"orient":"top","values":[1900,1910,1920],"labels":false,"title":null}},"x2":{"datum":1930}}},
   {"data":{"name":"d_tmp"},
    "encoding":{"x":{"field":"yr","type":"quantitative","scale":{"domain":[1890,1930],"nice":false,"zero":false},"axis":{"orient":"bottom","values":[1890,1900,1910,1920],"format":"d","title":"Year","labelFontSize":20,"titleFontSize":21,"labelPadding":13,"titlePadding":6}},
      "y":{"field":"v","type":"quantitative","scale":{"domain":[-9,9],"nice":false,"zero":false},"axis":{"orient":"left","values":[-6,-3,0,3,6],"labels":false,"title":null,"minExtent":0,"maxExtent":0}}},
    "layer":[
     {"transform":[{"fold":["k1","k2","k3"],"as":["s","v"]}],"mark":{"type":"line","stroke":"#231f20","strokeWidth":0.8,"clip":true},"encoding":{"detail":{"field":"s"}}},
     {"transform":[{"fold":["m"],"as":["s","v"]}],"mark":{"type":"line","stroke":"#a3202a","strokeWidth":3,"clip":true}}
    ]},
   {"data":{"name":"d_cor"},
    "encoding":{"x":{"field":"yr","type":"quantitative","scale":{"domain":[1890,1930],"nice":false,"zero":false},"axis":null},
      "y":{"field":"v","type":"quantitative","scale":{"domain":[-0.2,1.0],"nice":false,"zero":false},"axis":{"orient":"right","values":[0.6,0.8,1.0],"labels":false,"title":null,"minExtent":0,"maxExtent":0}}},
    "layer":[
     {"transform":[{"fold":["k1","k2","k3"],"as":["s","v"]}],"mark":{"type":"line","stroke":"#231f20","strokeWidth":0.8,"clip":true},"encoding":{"detail":{"field":"s"}}},
     {"transform":[{"fold":["m"],"as":["s","v"]}],"mark":{"type":"line","stroke":"#a3202a","strokeWidth":3,"clip":true}}
    ]},
   {"data":{"values":[{"t":"(d)"}]},"mark":{"type":"text","align":"left","fontSize":23,"fontWeight":"bold"},"encoding":{"x":{"datum":1890.8,"type":"quantitative","axis":null},"y":{"datum":-8.2,"type":"quantitative","scale":{"domain":[-9,9],"nice":false,"zero":false},"axis":null},"text":{"field":"t"}}},
   {"data":{"values":[{"t":"DJ"}]},"mark":{"type":"text","align":"right","fontSize":20},"encoding":{"x":{"datum":1920,"type":"quantitative","axis":null},"y":{"datum":-8.02,"type":"quantitative","scale":{"domain":[-9,9],"nice":false,"zero":false},"axis":null},"text":{"field":"t"}}},
   {"data":{"values":[{"t":"Fnorth"}]},"mark":{"type":"text","align":"left","fontSize":16},"encoding":{"x":{"datum":1920,"type":"quantitative","axis":null},"y":{"datum":-8.37,"type":"quantitative","scale":{"domain":[-9,9],"nice":false,"zero":false},"axis":null},"text":{"field":"t"}}}
  ]},
 {"width":267,"height":260,
  "resolve":{"scale":{"y":"independent"},"axis":{"x":"independent","y":"independent"}},
  "layer":[
   {"data":{"values":[{}]},"mark":{"type":"rect","fill":{"gradient":"linear","x1":0,"y1":0,"x2":1,"y2":0,"stops":[{"offset":0,"color":"#ffffff"},{"offset":0.245,"color":"#ffffff"},{"offset":0.26,"color":"#f1f1f2"},{"offset":0.40,"color":"#e2e3e5"},{"offset":0.50,"color":"#d3d4d6"},{"offset":0.542,"color":"#c5c6c8"},{"offset":0.56,"color":"#cecfd1"},{"offset":0.65,"color":"#dfe0e2"},{"offset":0.745,"color":"#eeeff0"},{"offset":0.76,"color":"#ffffff"},{"offset":1,"color":"#ffffff"}]}},
    "encoding":{"x":{"datum":1890,"type":"quantitative","scale":{"domain":[1890,1930],"nice":false,"zero":false},"axis":{"orient":"top","values":[1900,1910,1920],"labels":false,"title":null}},"x2":{"datum":1930}}},
   {"data":{"name":"e_tmp"},
    "encoding":{"x":{"field":"yr","type":"quantitative","scale":{"domain":[1890,1930],"nice":false,"zero":false},"axis":{"orient":"bottom","values":[1890,1900,1910,1920,1930],"format":"d","title":"Year","labelFontSize":20,"titleFontSize":21,"labelPadding":13,"titlePadding":6}},
      "y":{"field":"v","type":"quantitative","scale":{"domain":[-9,9],"nice":false,"zero":false},"axis":{"orient":"left","values":[-6,-3,0,3,6],"labels":false,"title":null,"minExtent":0,"maxExtent":0}}},
    "layer":[
     {"transform":[{"fold":["k1","k2","k3"],"as":["s","v"]}],"mark":{"type":"line","stroke":"#231f20","strokeWidth":0.8,"clip":true},"encoding":{"detail":{"field":"s"}}},
     {"transform":[{"fold":["m"],"as":["s","v"]}],"mark":{"type":"line","stroke":"#a3202a","strokeWidth":3,"clip":true}}
    ]},
   {"data":{"name":"e_cor"},
    "encoding":{"x":{"field":"yr","type":"quantitative","scale":{"domain":[1890,1930],"nice":false,"zero":false},"axis":null},
      "y":{"field":"v","type":"quantitative","scale":{"domain":[-0.2,1.0],"nice":false,"zero":false},"axis":{"orient":"right","values":[0.6,0.8,1.0],"format":".1f","title":"Correlation","labelFontSize":18,"titleFontSize":17,"labelPadding":9,"titlePadding":11,"titleY":45}}},
    "layer":[
     {"transform":[{"fold":["k1","k2","k3"],"as":["s","v"]}],"mark":{"type":"line","stroke":"#231f20","strokeWidth":0.8,"clip":true},"encoding":{"detail":{"field":"s"}}},
     {"transform":[{"fold":["m"],"as":["s","v"]}],"mark":{"type":"line","stroke":"#a3202a","strokeWidth":3,"clip":true}}
    ]},
   {"data":{"values":[{"t":"(e)"}]},"mark":{"type":"text","align":"left","fontSize":23,"fontWeight":"bold"},"encoding":{"x":{"datum":1890.8,"type":"quantitative","axis":null},"y":{"datum":-8.2,"type":"quantitative","scale":{"domain":[-9,9],"nice":false,"zero":false},"axis":null},"text":{"field":"t"}}},
   {"data":{"values":[{"t":"JJ"}]},"mark":{"type":"text","align":"right","fontSize":20},"encoding":{"x":{"datum":1919.2,"type":"quantitative","axis":null},"y":{"datum":-8.02,"type":"quantitative","scale":{"domain":[-9,9],"nice":false,"zero":false},"axis":null},"text":{"field":"t"}}},
   {"data":{"values":[{"t":"Asouth"}]},"mark":{"type":"text","align":"left","fontSize":16},"encoding":{"x":{"datum":1919.2,"type":"quantitative","axis":null},"y":{"datum":-8.37,"type":"quantitative","scale":{"domain":[-9,9],"nice":false,"zero":false},"axis":null},"text":{"field":"t"}}}
  ]}
]
}
